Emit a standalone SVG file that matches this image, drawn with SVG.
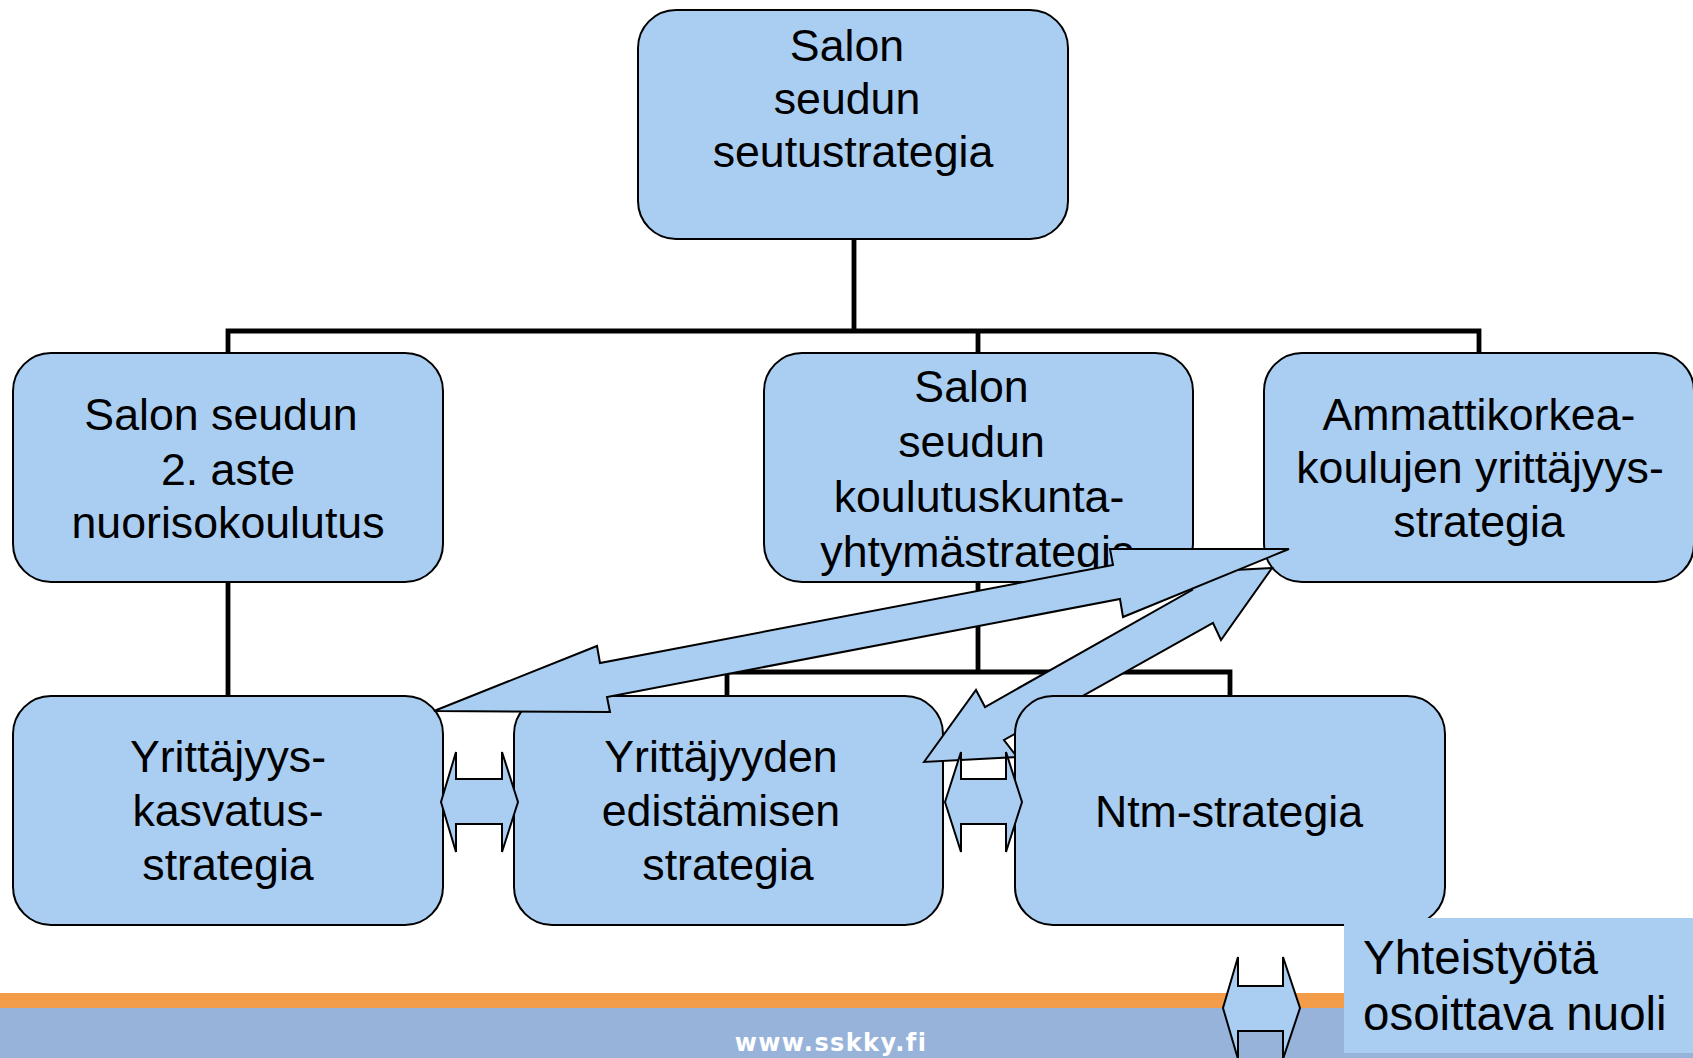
<svg xmlns="http://www.w3.org/2000/svg" width="1693" height="1058" viewBox="0 0 1693 1058">
<style>
.box{fill:#AACEF2;stroke:#000;stroke-width:2}
.t{font-family:"Liberation Sans",Arial,sans-serif;font-size:44.7px;fill:#000;text-anchor:middle}
.conn{stroke:#000;stroke-width:4.8;fill:none;stroke-linecap:square}
.arr{fill:#AACEF2;stroke:#000;stroke-width:2;stroke-linejoin:miter}
</style>
<rect x="0" y="0" width="1693" height="1058" fill="#fff"/>
<g id="footer">
<rect x="0" y="993" width="1693" height="15" fill="#F39C4A"/>
<rect x="0" y="1008" width="1693" height="50" fill="#98B3DA"/>
<text x="831" y="1051" font-family="DejaVu Sans,Verdana,sans-serif" font-weight="bold" font-size="24" letter-spacing="1.4" fill="#fff" text-anchor="middle">www.sskky.fi</text>
</g>
<g id="connectors">
<path class="conn" d="M854,239 V331 M228,331 H1479 M228,331 V353 M978,331 V354 M1479,331 V353"/>
<path class="conn" d="M228,582 V696 M978,582 V672 M727,672 H1230 M727,672 V696 M1230,672 V696"/>
</g>
<g id="n-seutustrategia">
<rect class="box" x="638" y="10" width="430" height="229" rx="38"/>
<text class="t"><tspan x="847" y="61">Salon</tspan><tspan x="847" y="114">seudun</tspan><tspan x="853" y="167">seutustrategia</tspan></text>
</g>
<g id="n-nuorisokoulutus">
<rect class="box" x="13" y="353" width="430" height="229" rx="38"/>
<text class="t"><tspan x="221" y="430">Salon seudun</tspan><tspan x="228" y="485">2. aste</tspan><tspan x="228" y="538">nuorisokoulutus</tspan></text>
</g>
<g id="n-koulutuskuntayhtyma">
<rect class="box" x="764" y="353" width="429" height="229" rx="38"/>
<text class="t"><tspan x="971.5" y="402">Salon</tspan><tspan x="971.5" y="457">seudun</tspan><tspan x="979" y="512">koulutuskunta-</tspan><tspan x="978" y="567">yhtymästrategia</tspan></text>
</g>
<g id="n-ammattikorkeakoulut">
<rect class="box" x="1264" y="353" width="430" height="229" rx="38"/>
<text class="t"><tspan x="1479" y="430">Ammattikorkea-</tspan><tspan x="1480" y="483">koulujen yrittäjyys-</tspan><tspan x="1479" y="537">strategia</tspan></text>
</g>
<g id="n-yrittajyyskasvatus">
<rect class="box" x="13" y="696" width="430" height="229" rx="38"/>
<text class="t"><tspan x="228" y="772">Yrittäjyys-</tspan><tspan x="228" y="826">kasvatus-</tspan><tspan x="228" y="880">strategia</tspan></text>
</g>
<g id="n-edistaminen">
<rect class="box" x="514" y="696" width="429" height="229" rx="38"/>
<text class="t"><tspan x="721" y="772">Yrittäjyyden</tspan><tspan x="721" y="826">edistämisen</tspan><tspan x="728" y="880">strategia</tspan></text>
</g>
<g id="arrow-amk-edistaminen">
<polygon class="arr" points="924,762 976,690 985,707 1192,590 1178,573 1272,568 1221,640 1213,623 1004,740 1017,757"/>
</g>
<g id="n-ntm">
<rect class="box" x="1015" y="696" width="430" height="229" rx="38"/>
<text class="t" x="1229" y="827">Ntm-strategia</text>
</g>
<g id="arrow-amk-kasvatus">
<polygon class="arr" points="434,711 597,646 600,663 1113,565 1110,549 1289,549 1123,617 1120,599 607,697 610,712"/>
</g>
<g id="arrow-kasvatus-edistaminen">
<polygon class="arr" points="441,802 456,752 456,779 502,779 502,752 518,802 502,852 502,824 456,824 456,852"/>
</g>
<g id="arrow-edistaminen-ntm">
<polygon class="arr" points="945,802 961,752 961,779 1006,779 1006,752 1022,802 1006,852 1006,824 961,824 961,852"/>
</g>
<g id="legend">
<rect x="1344" y="918" width="349" height="135" fill="#AACEF2"/>
<polygon class="arr" points="1223,1008 1238,957 1238,986 1283,986 1283,957 1300,1008 1283,1059 1283,1031 1238,1031 1238,1059"/>
<text font-family="Liberation Sans,Arial,sans-serif" font-size="47.5" fill="#000"><tspan x="1363" y="974">Yhteistyötä</tspan><tspan x="1363" y="1030">osoittava nuoli</tspan></text>
</g>
</svg>
